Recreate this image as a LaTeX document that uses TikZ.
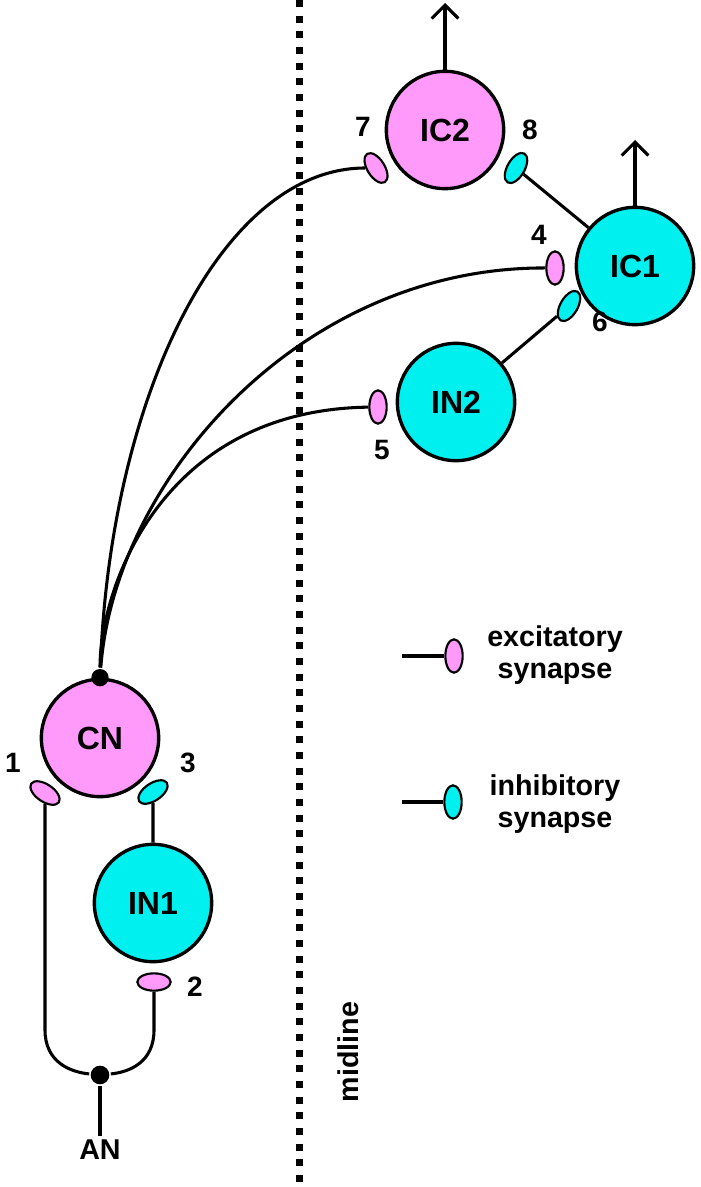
\documentclass[tikz,border=0pt]{standalone}
\usepackage{fontspec}
\setmainfont{Liberation Sans}
\usetikzlibrary{shapes.geometric,arrows.meta}

\definecolor{cellpink}{RGB}{255,153,250}
\definecolor{cellcyan}{RGB}{0,240,240}

\tikzset{every picture/.style={line width=2.3pt},
  neuron/.style={circle,draw=black,line width=2.5pt,minimum size=88pt,inner sep=0pt,font=\fontsize{24}{28}\selectfont\bfseries},
  synexc/.style={ellipse,draw=black,line width=1.6pt,fill=cellpink,minimum width=25pt,minimum height=13pt,inner sep=0pt},
  syninh/.style={ellipse,draw=black,line width=1.6pt,fill=cellcyan,minimum width=25pt,minimum height=13pt,inner sep=0pt},
  somadot/.style={circle,fill=black,inner sep=0pt,minimum size=13pt},
  numlabel/.style={font=\fontsize{21}{24}\selectfont\bfseries,inner sep=1pt},
  textlabel/.style={font=\fontsize{21.5}{24}\selectfont\bfseries,align=center,inner sep=2pt},
  axon/.style={-{Straight Barb[length=10pt,width=20pt]}},
  midline/.style={line width=5.25pt,dash pattern=on 5.25pt off 6.5pt}
}

\begin{document}
\begin{tikzpicture}[x=0.75pt,y=0.75pt,yscale=-1,xscale=1]
  \useasboundingbox (0,0) rectangle (700,1187);

  % midline
  \coordinate (midtop) at (299,0);
  \coordinate (midbot) at (299,1187);
  \draw[midline] (midtop) -- (midbot);
  \node[textlabel,rotate=90] (midtxt) at (348,1052) {midline};

  % neurons
  \node[neuron,fill=cellpink] (IC2) at (445,130) {IC2};
  \node[neuron,fill=cellcyan] (IC1) at (635,266) {IC1};
  \node[neuron,fill=cellcyan] (IN2) at (456,402) {IN2};
  \node[neuron,fill=cellpink] (CN) at (100,738) {CN};
  \node[neuron,fill=cellcyan] (IN1) at (153,903) {IN1};

  % synapses
  \node[synexc,rotate=-58] (s7) at (376,168) {};
  \node[syninh,rotate=60] (s8) at (516,168) {};
  \node[synexc,rotate=90] (s4) at (555,268) {};
  \node[syninh,rotate=60] (s6) at (569,306) {};
  \node[synexc,rotate=90] (s5) at (378,407) {};
  \node[synexc,rotate=-34] (s1) at (45,793) {};
  \node[syninh,rotate=34] (s3) at (153,792) {};
  \node[synexc] (s2) at (154,982) {};

  \node[numlabel] (n7) at (363,127) {7};
  \node[numlabel] (n8) at (530,130) {8};
  \node[numlabel] (n4) at (539,235) {4};
  \node[numlabel] (n6) at (600,322) {6};
  \node[numlabel] (n5) at (382,450) {5};
  \node[numlabel] (n1) at (13,763) {1};
  \node[numlabel] (n3) at (188,763) {3};
  \node[numlabel] (n2) at (195,987) {2};

  % outputs
  \coordinate (out2) at (445,3);
  \coordinate (out1) at (635,140);
  \draw[axon] (IC2) -- (out2);
  \draw[axon] (IC1) -- (out1);

  % CN projections
  \node[somadot] (cnax) at (CN.north) {};
  \draw (cnax) .. controls (110,400) and (220,168) .. (s7);
  \draw (cnax) .. controls (115,480) and (300,267) .. (s4);
  \draw (cnax) .. controls (100,590) and (160,410) .. (s5);

  \draw (s8) -- (IC1);
  \draw (IN2) -- (s6);
  \draw (s3) -- (IN1);

  % auditory nerve
  \node[somadot,minimum size=14pt] (jn) at (100,1075) {};
  \node[textlabel] (AN) at (100,1150) {AN};
  \coordinate (lbend) at (45,1030);
  \coordinate (rbend) at (154,1030);
  \draw (s1) -- (lbend) .. controls (45,1062) and (70,1072) .. (jn);
  \draw (s2) -- (rbend) .. controls (154,1062) and (130,1072) .. (jn);
  \draw (jn) -- (AN);

  % legend
  \node[synexc,rotate=90] (lgexc) at (454,656) {};
  \node[syninh,rotate=90] (lginh) at (453,802) {};
  \coordinate (lgexcin) at (402,656);
  \coordinate (lginhin) at (402,802);
  \draw (lgexcin) -- (lgexc);
  \draw (lginhin) -- (lginh);
  \node[textlabel] (lgexctxt) at (555,655) {excitatory\\synapse};
  \node[textlabel] (lginhtxt) at (555,804) {inhibitory\\synapse};

\end{tikzpicture}
\end{document}
